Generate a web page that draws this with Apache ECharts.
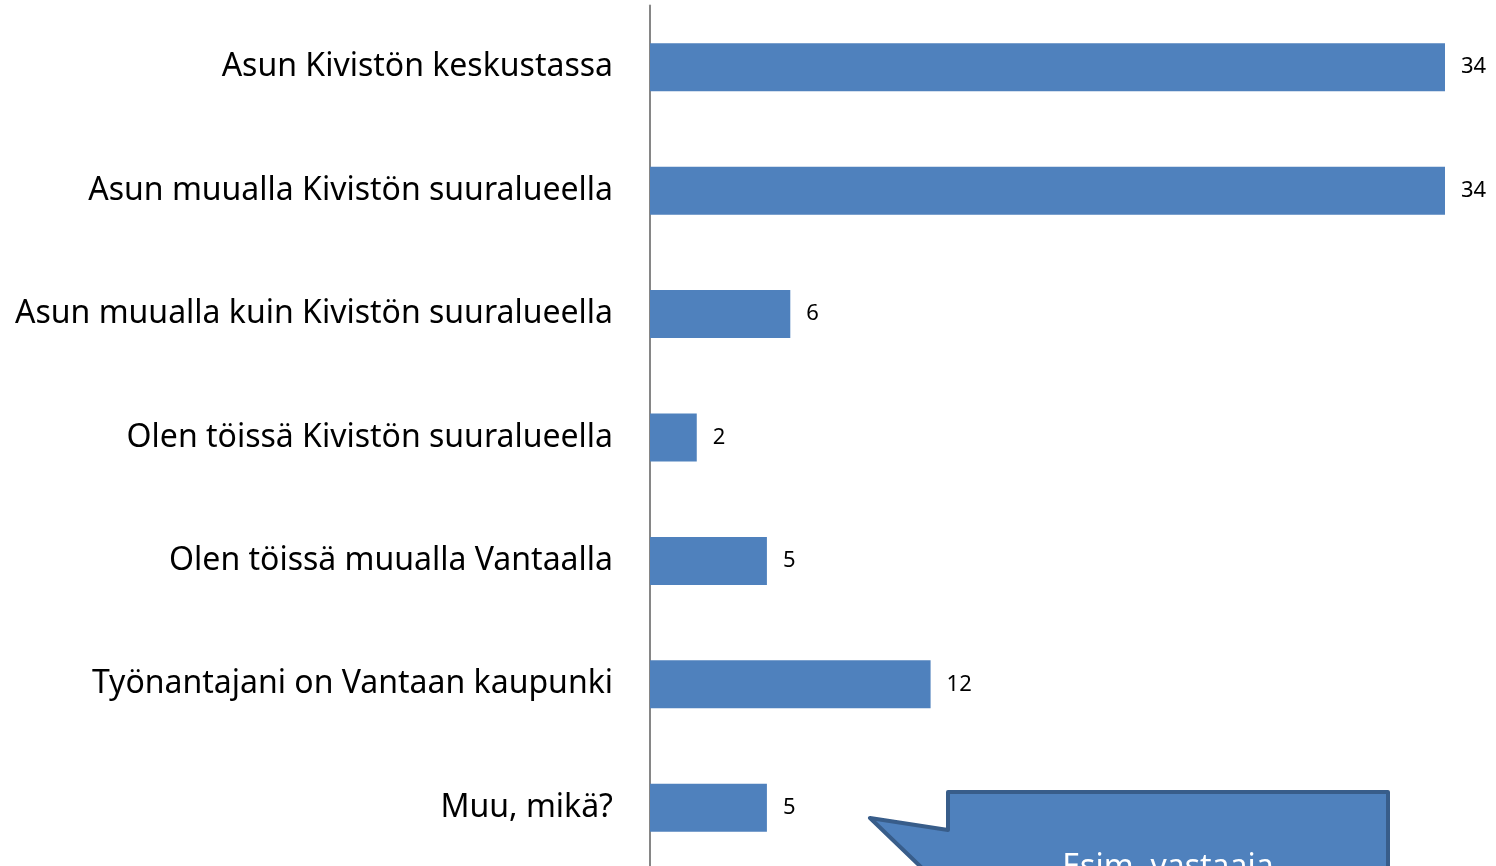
<!DOCTYPE html>
<html>
<head>
<meta charset="utf-8">
<script src="https://cdn.jsdelivr.net/npm/echarts@6/dist/echarts.min.js"></script>
<style>
  html, body { margin: 0; padding: 0; background: #fff; overflow: hidden; }
  #chart { width: 1496px; height: 880px; }
</style>
</head>
<body>
<div id="chart"></div>
<script>
var categories = [
  'Asun Kivistön keskustassa',
  'Asun muualla Kivistön suuralueella',
  'Asun muualla kuin Kivistön suuralueella',
  'Olen töissä Kivistön suuralueella',
  'Olen töissä muualla Vantaalla',
  'Työnantajani on Vantaan kaupunki',
  'Muu, mikä?'
];
var answers = [34, 34, 6, 2, 5, 12, 5];
var calloutText = 'Esim. vastaaja';

var chart = echarts.init(document.getElementById('chart'));

var option = {
  animation: false,
  grid: { left: 650, top: 5.5, width: 795, height: 864 },
  xAxis: {
    type: 'value', min: 0, max: 34,
    show: false
  },
  yAxis: {
    type: 'category',
    inverse: true,
    data: categories,
    axisLine: { show: true, lineStyle: { color: '#868686', width: 2 } },
    axisTick: { show: false },
    axisLabel: {
      margin: 37,
      padding: [5, 0, 0, 0],
      fontFamily: 'Noto Sans',
      fontSize: 32,
      color: '#000'
    }
  },
  series: [{
    type: 'bar',
    data: answers,
    barWidth: 48,
    itemStyle: { color: '#4f81bd' },
    label: {
      show: true,
      position: 'right',
      distance: 16,
      padding: [4, 0, 0, 0],
      fontFamily: 'Noto Sans',
      fontSize: 22,
      color: '#000'
    }
  }],
  graphic: [
    {
      type: 'polygon',
      shape: {
        points: [[870, 818], [948, 830], [948, 792], [1388, 792],
                 [1388, 960], [948, 960], [948, 893]]
      },
      style: { fill: '#4f81bd', stroke: '#385d8a', lineWidth: 4, lineJoin: 'round' },
      z: 10
    },
    {
      type: 'text',
      x: 1168, y: 884,
      style: {
        text: calloutText,
        fill: '#fff',
        fontFamily: 'Noto Sans',
        fontSize: 32,
        textAlign: 'center',
        textVerticalAlign: 'bottom'
      },
      z: 11
    }
  ]
};
chart.setOption(option);
</script>
</body>
</html>
